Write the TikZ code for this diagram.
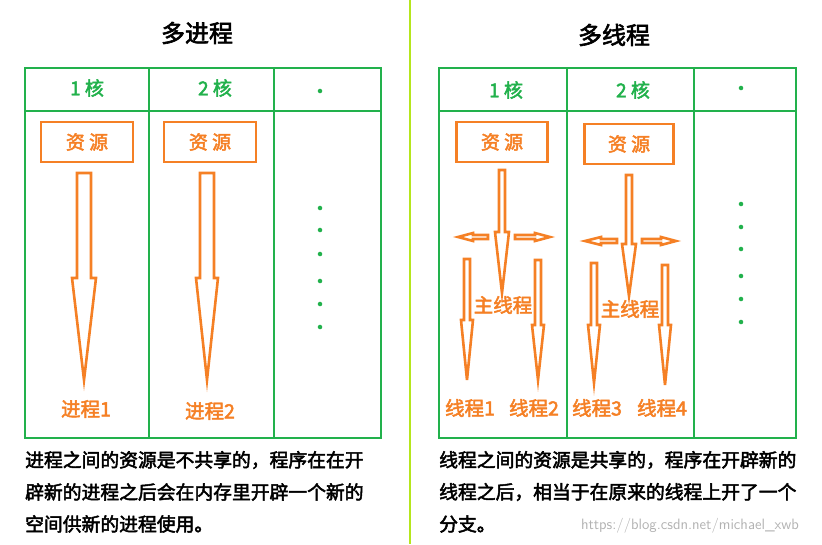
\documentclass[tikz,border=0pt]{standalone}
\usepackage{fontspec}
\newfontfamily\cjk{Noto Sans CJK SC}[FakeBold=2.5]
\definecolor{og}{HTML}{F58025}
\definecolor{gn}{HTML}{22B14C}
\definecolor{yg}{HTML}{B5E61D}
\tikzset{cell/.style={draw=gn,line width=2.5pt},
 hd/.style={text=gn,font=\cjk\fontsize{19}{21}\selectfont},
 ol/.style={text=og,font=\cjk\fontsize{19.5}{21}\selectfont,inner sep=1pt},
 res/.style={draw=og,line width=2.8pt,minimum width=#1,minimum height=40pt,text=og,font=\cjk\fontsize{19}{21}\selectfont},
 arr/.style={draw=og,line width=2.6pt,line join=miter},
 dt/.style={fill=gn,circle,inner sep=1.6pt},
 body/.style={font=\cjk\fontsize{18.8}{20}\selectfont,anchor=west,inner sep=0pt}}
\newcommand\darr[6]{\draw[arr] (#1-#5,#2)--(#1+#5,#2)--(#1+#5,#3)--(#1+#6,#3)--(#1,#4)--(#1-#6,#3)--(#1-#5,#3)--cycle;}
\newcommand\harr[4]{\draw[arr] (#2,#1-2)--(#3,#1-2)--(#3,#1-4)--(#4,#1)--(#3,#1+4)--(#3,#1+2)--(#2,#1+2)--cycle;}
\begin{document}
\begin{tikzpicture}[x=1pt,y=-1pt]
\useasboundingbox (0,0) rectangle (822,544);
\draw[yg,line width=2.5pt] (410,0)--(410,544);
\node[font=\cjk\fontsize{24}{26}\selectfont] (t1) at (197,33) {多进程};
\node[font=\cjk\fontsize{24}{26}\selectfont] (t2) at (614,35) {多线程};
\draw[cell] (25,68) rectangle (381,438);
\draw[cell] (25,111)--(381,111) (149,68)--(149,438) (274,68)--(274,438);
\node[hd] (h1) at (87,88) {1 核};
\node[hd] (h2) at (215,88) {2 核};
\node[dt] (h3) at (320,91) {};
\node[res=92pt] (r1) at (87,142) {资 源};
\node[res=92pt] (r2) at (210,142) {资 源};
\darr{84}{173}{278}{380}{7}{12}
\darr{207}{173}{278}{380}{7}{11}
\node[ol] (p1) at (86,409) {进程1};
\node[ol] (p2) at (210,411) {进程2};
\foreach \y [count=\i] in {208,230,254,281,304,327} \node[dt] (ld\i) at (320,\y) {};
\draw[cell] (439,68) rectangle (796,438);
\draw[cell] (439,111)--(796,111) (567,68)--(567,438) (694,68)--(694,438);
\node[hd] (h4) at (506,90) {1 核};
\node[hd] (h5) at (633,90) {2 核};
\node[dt] (h6) at (741,88) {};
\node[res=91pt] (r3) at (502,142) {资 源};
\node[res=89pt] (r4) at (629,144) {资 源};
\darr{502}{170}{232}{293}{3}{7}
\harr{237}{488}{473}{458}
\harr{237}{515}{535}{550}
\darr{467}{259}{320}{380}{3}{6}
\darr{538}{260}{325}{380}{3}{6}
\node[ol] (m1) at (503,305) {主线程};
\node[ol] (s1) at (470,408) {线程1};
\node[ol] (s2) at (534,408) {线程2};
\darr{629}{175}{244}{296}{3}{7}
\harr{241}{617}{601}{585}
\harr{241}{642}{661}{676}
\darr{594}{263}{325}{383}{3}{6}
\darr{665}{265}{325}{385}{3}{6}
\node[ol] (m2) at (630,309) {主线程};
\node[ol] (s3) at (597,408) {线程3};
\node[ol] (s4) at (662,408) {线程4};
\foreach \y [count=\i] in {204,227,249,276,299,322} \node[dt] (rd\i) at (741,\y) {};
\node[body] (b1) at (25,460) {进程之间的资源是不共享的，程序在在开};
\node[body] (b2) at (25,492) {辟新的进程之后会在内存里开辟一个新的};
\node[body] (b3) at (25,524) {空间供新的进程使用。};
\node[body] (b4) at (439,460) {线程之间的资源是共享的，程序在开辟新的};
\node[body] (b5) at (439,492) {线程之后，相当于在原来的线程上开了一个};
\node[body] (b6) at (439,524) {分支。};
\node[text=gray!60,font=\fontsize{15}{17}\selectfont\sffamily] (wm) at (690,526) {https://blog.csdn.net/michael\_xwb};
\end{tikzpicture}
\end{document}
